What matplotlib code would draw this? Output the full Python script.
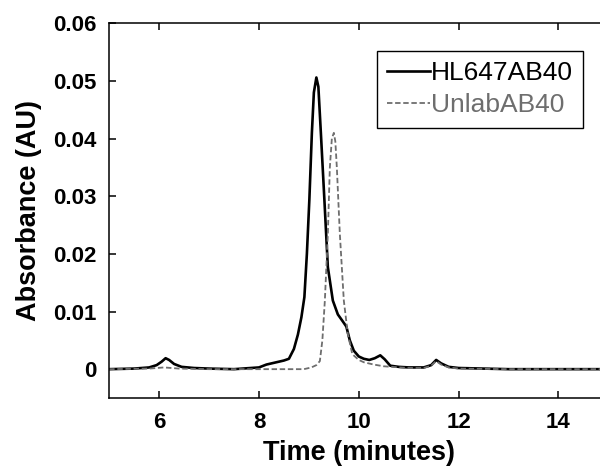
import matplotlib
matplotlib.use("Agg")
import matplotlib.pyplot as plt

plt.rcParams['font.family'] = ['Liberation Sans', 'DejaVu Sans']

# values
hl_time = [5.0, 5.5, 5.8, 5.95, 6.05, 6.13, 6.2, 6.3, 6.45, 6.7, 7.0, 7.5, 8.0, 8.15, 8.3,
           8.5, 8.6, 8.7, 8.78, 8.85, 8.91, 8.96, 9.01, 9.06, 9.1, 9.15, 9.19, 9.24, 9.31,
           9.38, 9.48, 9.58, 9.67, 9.75, 9.82, 9.9, 10.0, 10.1, 10.21, 10.32, 10.43,
           10.52, 10.63, 10.8, 11.0, 11.3, 11.45, 11.55, 11.65, 11.8, 12.0, 12.5, 13.0,
           14.0, 15.0]
hl_abs = [0.0, 0.0001, 0.0003, 0.0007, 0.0013, 0.0019, 0.0016, 0.0009, 0.0004, 0.0002,
          0.0001, 0.0, 0.0003, 0.0008, 0.0011, 0.0015, 0.0018, 0.0035, 0.0060, 0.0090,
          0.0125, 0.0200, 0.0295, 0.0410, 0.0480, 0.0506, 0.0490, 0.0410, 0.0295,
          0.0177, 0.0119, 0.0095, 0.0084, 0.0074, 0.0050, 0.0032, 0.0022, 0.0018,
          0.0016, 0.0019, 0.0024, 0.0017, 0.0006, 0.0004, 0.0003, 0.0003, 0.0007,
          0.0016, 0.0010, 0.0004, 0.0002, 0.0001, 0.0, 0.0, 0.0]

unlab_time = [5.0, 5.8, 6.1, 6.4, 7.0, 8.0, 8.9, 9.05, 9.15, 9.22, 9.27, 9.32, 9.38,
              9.42, 9.46, 9.5, 9.53, 9.56, 9.62, 9.7, 9.78, 9.87, 10.0, 10.1, 10.3,
              10.5, 11.0, 11.3, 11.45, 11.55, 11.65, 11.8, 12.0, 13.0, 14.0, 15.0]
unlab_abs = [0.0, 0.0001, 0.0003, 0.0001, 0.0, 0.0, 0.0, 0.0003, 0.0007, 0.0014,
             0.0050, 0.0119, 0.0235, 0.0350, 0.0400, 0.0410, 0.0395, 0.0350, 0.0235,
             0.0119, 0.0061, 0.0026, 0.0016, 0.0012, 0.0008, 0.0005, 0.0002, 0.0002,
             0.0006, 0.0014, 0.0008, 0.0003, 0.0001, 0.0, 0.0, 0.0]

x_ticks = [6, 8, 10, 12, 14]
y_ticks = [0, 0.01, 0.02, 0.03, 0.04, 0.05, 0.06]
y_tick_labels = ['0', '0.01', '0.02', '0.03', '0.04', '0.05', '0.06']

fig = plt.figure(figsize=(6, 4.68), dpi=100)
ax = fig.add_axes([0.182, 0.1496, 0.832, 0.8006])

ax.plot(hl_time, hl_abs, color='black', lw=1.9, label='HL647AB40')
ax.plot(unlab_time, unlab_abs, color='#6e6e6e', lw=1.3, ls=(0, (3, 1.5)),
        label='UnlabAB40')

ax.set_xlim(5, 15)
ax.set_ylim(-0.005, 0.06)
ax.set_xticks(x_ticks)
ax.set_yticks(y_ticks)
ax.set_yticklabels(y_tick_labels)

for s in ax.spines.values():
    s.set_linewidth(1.1)

ax.tick_params(direction='in', length=5, width=1.1, top=True, right=True,
               labelsize=16)
ax.tick_params(axis='x', pad=10)
ax.tick_params(axis='y', pad=9)
for lab in ax.get_xticklabels() + ax.get_yticklabels():
    lab.set_fontweight('bold')

ax.set_xlabel('Time (minutes)', fontsize=19.5, fontweight='bold', labelpad=5)
ax.set_ylabel('Absorbance (AU)', fontsize=19.5, fontweight='bold', labelpad=8)

leg = ax.legend(loc='upper left', bbox_to_anchor=(0.536, 0.927), fontsize=19,
                frameon=True, fancybox=False, framealpha=1, edgecolor='black',
                handlelength=1.6, handletextpad=0.05, borderpad=0.4,
                labelspacing=0.3, borderaxespad=0)
leg.get_frame().set_linewidth(1.0)
leg.get_texts()[1].set_color('#6e6e6e')

fig.savefig('out.png', dpi=100)
